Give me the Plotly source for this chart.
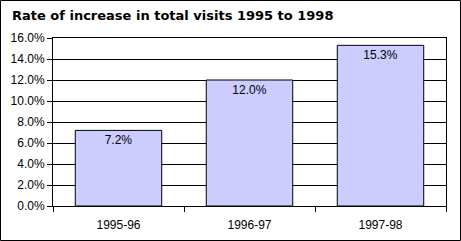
import plotly.graph_objects as go

categories = ["1995-96", "1996-97", "1997-98"]
values = [7.2, 12.0, 15.3]
y_ticks = [0, 2, 4, 6, 8, 10, 12, 14, 16]
y_tick_labels = [f"{v:.1f}%" for v in y_ticks]

W, H = 461, 241
L, R, T, B = 53, 15, 38, 35
pw, ph = W - L - R, H - T - B

font = "Liberation Sans, Arial, sans-serif"

fig = go.Figure()
fig.add_trace(go.Bar(
    x=categories, y=values,
    marker=dict(color="#CCCCFF", line=dict(color="black", width=1)),
    texttemplate="%{y:.1f}%", textposition="inside", insidetextanchor="end",
    textfont=dict(family=font, size=12, color="black"),
    width=0.66,
))

fig.update_layout(
    width=W, height=H,
    margin=dict(l=L, r=R, t=T, b=B, autoexpand=False),
    paper_bgcolor="white", plot_bgcolor="white",
    showlegend=False,
    font=dict(family=font, size=12, color="black"),
    title=dict(text="<b>Rate of increase in total visits 1995 to 1998</b>",
               x=12 / W, xanchor="left", y=1 - 15 / H, yanchor="middle",
               font=dict(family="DejaVu Sans, sans-serif", size=13, color="black")),
    xaxis=dict(showline=True, linecolor="black", linewidth=1, mirror=True,
               ticks="outside", ticklen=5, tickcolor="black", tickson="boundaries",
               showgrid=False, tickfont=dict(size=12), ticklabelstandoff=8,
               automargin=False),
    yaxis=dict(range=[0, 16], tickvals=y_ticks, ticktext=y_tick_labels,
               showline=True, linecolor="black", linewidth=1, mirror=True,
               ticks="outside", ticklen=5, tickcolor="black",
               showgrid=True, gridcolor="black", gridwidth=1, zeroline=False,
               tickfont=dict(size=12), automargin=False),
    shapes=[dict(type="rect", xref="paper", yref="paper",
                 x0=(0.5 - L) / pw, x1=(W - 0.5 - L) / pw,
                 y0=-(H - 0.5 - T - ph) / ph, y1=(H - 0.5 - B) / ph,
                 line=dict(color="black", width=1), fillcolor="rgba(0,0,0,0)",
                 layer="above")],
)

fig.write_html("out.html")
